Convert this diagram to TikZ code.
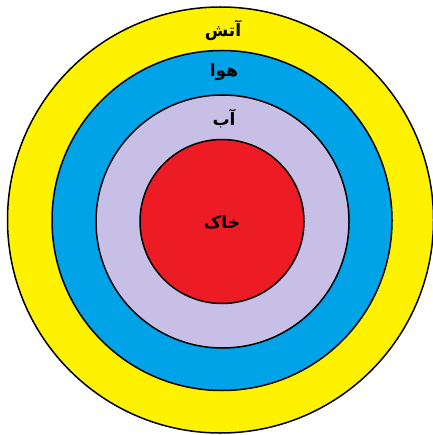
\documentclass[tikz,border=0pt]{standalone}
\usepackage{fontspec}
\newfontfamily\arabicfont[Script=Arabic]{DejaVu Sans}
\TeXXeTstate=1
\definecolor{fireY}{HTML}{FFF200}
\definecolor{airB}{HTML}{00A2E8}
\definecolor{waterL}{HTML}{C8BFE7}
\definecolor{earthR}{HTML}{ED1C24}
\tikzset{
  ring/.style={circle, draw=black, line width=1.5pt, inner sep=0pt},
  lbl/.style={font=\arabicfont\bfseries\fontsize{17}{20}\selectfont, inner sep=0pt}
}
\begin{document}
\begin{tikzpicture}[x=1pt,y=-1pt]
\useasboundingbox (0,0) rectangle (432,435);
\node[ring, fill=fireY, minimum size=426pt] (fire) at (220.5,220) {};
\node[ring, fill=airB, minimum size=340pt] (air) at (222,220.5) {};
\node[ring, fill=waterL, minimum size=253pt] (water) at (222.5,221.5) {};
\node[ring, fill=earthR, minimum size=164pt] (earth) at (222,221.5) {};
\node[lbl] (tfire) at (223,30) {\beginR آتش\endR};
\node[lbl] (tair) at (224,72) {\beginR هوا\endR};
\node[lbl] (twater) at (224,119) {\beginR آب\endR};
\node[lbl] (tearth) at (222,222) {\beginR خاک\endR};
\end{tikzpicture}
\end{document}
